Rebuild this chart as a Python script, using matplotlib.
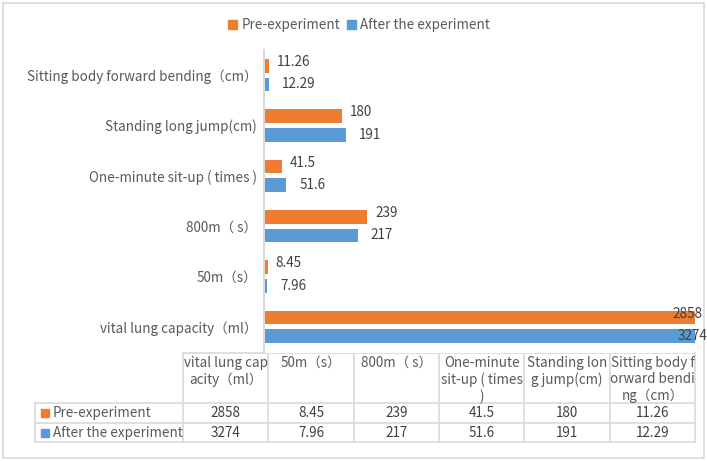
import numpy as np
import matplotlib.pyplot as plt
from matplotlib.patches import Patch, Rectangle

plt.rcParams['font.family'] = ['Noto Sans CJK SC', 'DejaVu Sans']

# data (bottom to top as drawn)
categories = ["vital lung capacity（ml）", "50m（s）", "800m（ s）",
              "One-minute sit-up ( times )", "Standing long jump(cm)",
              "Sitting body forward bending（cm）"]
pre_values = [2858, 8.45, 239, 41.5, 180, 11.26]
after_values = [3274, 7.96, 217, 51.6, 191, 12.29]
pre_labels = ["2858", "8.45", "239", "41.5", "180", "11.26"]
after_labels = ["3274", "7.96", "217", "51.6", "191", "12.29"]
series_names = ["Pre-experiment", "After the experiment"]
table_headers = ["vital lung cap\nacity（ml）", "50m（s）", "800m（ s）",
                 "One-minute\nsit-up ( times\n)", "Standing lon\ng jump(cm)",
                 "Sitting body f\norward bendi\nng（cm）"]

orange = "#ED7D31"
blue = "#5B9BD5"
grid_col = "#D9D9D9"
txt_col = "#595959"
num_col = "#404040"

W, H = 707, 461
fig = plt.figure(figsize=(W / 100, H / 100), dpi=100)

# full-figure pixel canvas for frame + table
bg = fig.add_axes([0, 0, 1, 1])
bg.set_xlim(0, W)
bg.set_ylim(H, 0)
bg.axis('off')
bg.add_patch(Rectangle((3, 3), 701, 455, fill=False, ec=grid_col, lw=1.2))

# bar chart
ax = fig.add_axes([264 / W, 1 - 353 / H, (695 - 264) / W, (353 - 50) / H])
y = np.arange(len(categories))
h = 0.27
off = 0.184
ax.barh(y + off, pre_values, height=h, color=orange)
ax.barh(y - off, after_values, height=h, color=blue)
xmax = 1000
ax.set_xlim(0, xmax)
ax.set_ylim(-0.52, 5.5)
ax.set_yticks(y)
ax.set_yticklabels(categories, fontsize=9.7, color=txt_col)
ax.tick_params(axis='y', length=0, pad=5)
ax.set_xticks([])
for s in ['top', 'right', 'bottom']:
    ax.spines[s].set_visible(False)
ax.spines['left'].set_color(grid_col)
ax.spines['left'].set_linewidth(1.5)

for i in range(len(categories)):
    for val, lab, dy, dx, gap in [(pre_values[i], pre_labels[i], off, 8, 4),
                                  (after_values[i], after_labels[i], -off, 13, 0)]:
        if val > xmax:
            ax.annotate(lab, (xmax, i + dy), xytext=(7 if dy > 0 else 12, gap),
                        textcoords='offset pixels', ha='right', va='center',
                        fontsize=9.7, color=num_col, annotation_clip=False)
        else:
            ax.annotate(lab, (val, i + dy), xytext=(dx, gap),
                        textcoords='offset pixels', ha='left', va='center',
                        fontsize=9.7, color=num_col)

handles = [Patch(color=orange, label=series_names[0]),
           Patch(color=blue, label=series_names[1])]
fig.legend(handles=handles, loc='center', bbox_to_anchor=(359 / W, 1 - 25 / H),
           ncol=2, frameon=False, fontsize=9.7, handlelength=0.65, handleheight=0.65,
           handletextpad=0.35, columnspacing=0.5, labelcolor=txt_col)

# data table
col_x = np.linspace(183, 695, len(categories) + 1)
row_y = [353, 403, 423, 442]
lw = 1.2
for x in col_x:
    bg.plot([x, x], [row_y[0], row_y[-1]], color=grid_col, lw=lw)
bg.plot([col_x[0], col_x[-1]], [row_y[0], row_y[0]], color=grid_col, lw=lw)
for yy in row_y[1:]:
    bg.plot([35, col_x[-1]], [yy, yy], color=grid_col, lw=lw)
bg.plot([35, 35], [row_y[1], row_y[-1]], color=grid_col, lw=lw)
for j, head in enumerate(table_headers):
    bg.text((col_x[j] + col_x[j + 1]) / 2, 356, head, ha='center', va='top',
            fontsize=9.7, color=txt_col, linespacing=1.22)
rows = [(pre_labels, orange), (after_labels, blue)]
for r, (labs, c) in enumerate(rows):
    yc = (row_y[r + 1] + row_y[r + 2]) / 2
    bg.add_patch(Rectangle((41, yc - 4), 8, 8, color=c))
    bg.text(53, yc, series_names[r], ha='left', va='center', fontsize=9.7, color=txt_col)
    for j, lab in enumerate(labs):
        bg.text((col_x[j] + col_x[j + 1]) / 2, yc, lab, ha='center', va='center',
                fontsize=9.7, color=num_col)

fig.savefig("out.png", dpi=100)
